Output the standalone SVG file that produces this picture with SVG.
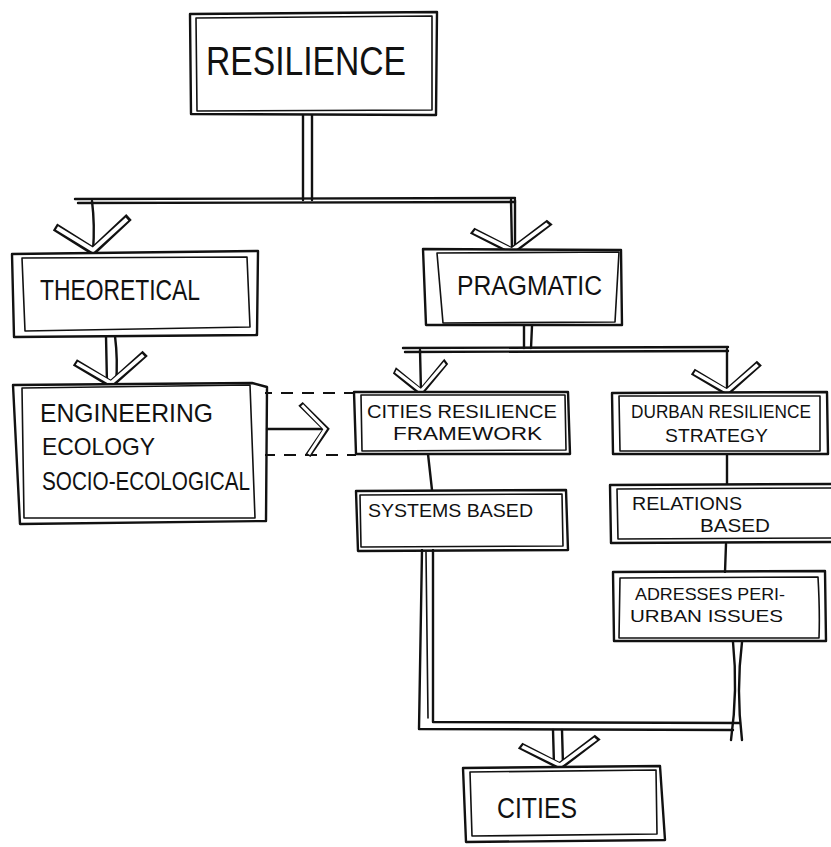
<svg xmlns="http://www.w3.org/2000/svg" xmlns:xlink="http://www.w3.org/1999/xlink" width="831" height="847" viewBox="0 0 831 847">
  <style>
    .ink { fill: none; stroke: #111; stroke-width: 2.4; stroke-linecap: round; stroke-linejoin: round; }
    .thin { fill: none; stroke: #111; stroke-width: 1.6; stroke-linecap: round; stroke-linejoin: round; }
    .dash { fill: none; stroke: #111; stroke-width: 2.2; stroke-dasharray: 12 9; }
    .box { fill: #fff; }
    .arm-o { fill: none; stroke: #111; stroke-width: 8; stroke-linecap: butt; stroke-linejoin: miter; }
    .arm-i { fill: none; stroke: #fff; stroke-width: 4; stroke-linecap: butt; stroke-linejoin: miter; }
    .lbl { font-family: "Liberation Sans", Arial, sans-serif; fill: #111; }
  </style>
  <defs>
    <!-- hollow chevron arrowhead, tip at origin, pointing down (+y) -->
    <g id="chev">
      <path class="arm-o" d="M-38,-24 L0,0 L36,-34"/>
      <path class="arm-i" d="M-36,-23 L0,-1 L34,-32"/>
    </g>
  </defs>
  <rect width="831" height="847" fill="#fff"/>

  <!-- connectors -->
  <g id="connectors">
    <!-- resilience stem and branch -->
    <path class="ink" d="M303,115 L303,200 M312,115 L312,200"/>
    <path class="ink" d="M75,199 L515,198 M78,203 L515,202"/>
    <path class="ink" d="M92,201 Q95,225 93,251"/>
    <path class="ink" d="M511,200 L512,250 M515,200 L515,250"/>
    <use xlink:href="#chev" transform="translate(93,251)"/>
    <use xlink:href="#chev" transform="translate(512,251) scale(1.05,0.85)"/>

    <!-- theoretical to schools -->
    <path class="ink" d="M106,336 L107,384 M115,336 Q118,360 116,384"/>
    <use xlink:href="#chev" transform="translate(111,384) scale(0.95,0.9)"/>

    <!-- dashed correspondence with arrow -->
    <path class="dash" d="M260,393 L356,393"/>
    <path class="dash" d="M263,455 L356,455"/>
    <path class="ink" d="M267,429 L322,429"/>
    <use xlink:href="#chev" transform="translate(326,429) rotate(-90) scale(0.7,0.75)"/>

    <!-- pragmatic branch -->
    <path class="ink" d="M524,326 L524,348 M532,326 L531,348"/>
    <path class="ink" d="M403,348 L728,347 M405,352 L728,351"/>
    <path class="ink" d="M420,350 L421,392"/>
    <path class="ink" d="M727,349 L727,392"/>
    <use xlink:href="#chev" transform="translate(421,392) scale(0.7,0.9)"/>
    <use xlink:href="#chev" transform="translate(727,392) scale(0.9,0.85)"/>

    <!-- framework / strategy chains -->
    <path class="ink" d="M428,454 L432,490"/>
    <path class="ink" d="M727,454 L727,484"/>
    <path class="ink" d="M726,544 L725,572"/>

    <!-- paths converging on cities -->
    <path class="ink" d="M422,550 L419,729 L733,730 M433,550 L433,722 L740,723"/>
    <path class="thin" d="M426,552 L428,718"/>
    <path class="ink" d="M733,642 Q738,690 731,740 M742,642 Q736,690 742,740"/>
    <path class="ink" d="M553,730 L554,765 M562,730 L563,765"/>
    <use xlink:href="#chev" transform="translate(560,766) scale(1.05,0.85)"/>
  </g>

  <!-- RESILIENCE -->
  <g id="n-resilience">
    <rect class="box" x="192" y="13" width="244" height="102"/>
    <path class="ink" d="M190,14 L437,12 L436,115 L191,114 Z"/>
    <path class="thin" d="M196,18 L432,16 L432,110 L197,111 Z"/>
    <text class="lbl" x="206" y="75" font-size="41" textLength="200" lengthAdjust="spacingAndGlyphs">RESILIENCE</text>
  </g>

  <!-- THEORETICAL -->
  <g id="n-theoretical">
    <rect class="box" x="15" y="253" width="242" height="83"/>
    <path class="ink" d="M12,254 L258,251 L257,335 L14,337 Z"/>
    <path class="thin" d="M22,258 L247,257 L250,327 L25,331 Z"/>
    <text class="lbl" x="40" y="300" font-size="29" textLength="160" lengthAdjust="spacingAndGlyphs">THEORETICAL</text>
  </g>

  <!-- PRAGMATIC -->
  <g id="n-pragmatic">
    <rect class="box" x="424" y="250" width="198" height="76"/>
    <path class="ink" d="M423,249 L621,250 L622,325 L426,325 Z"/>
    <path class="thin" d="M437,253 L619,252 L615,322 L443,323 Z"/>
    <text class="lbl" x="457" y="295" font-size="27" textLength="145" lengthAdjust="spacingAndGlyphs">PRAGMATIC</text>
  </g>

  <!-- ENGINEERING / ECOLOGY / SOCIO-ECOLOGICAL -->
  <g id="n-schools">
    <rect class="box" x="15" y="385" width="250" height="137"/>
    <path class="ink" d="M13,385 L252,383 L267,387 L266,521 L20,524 Z"/>
    <path class="thin" d="M22,388 L250,385 L255,518 L24,518 Z"/>
    <text class="lbl" x="40" y="422" font-size="26" textLength="173" lengthAdjust="spacingAndGlyphs">ENGINEERING</text>
    <text class="lbl" x="42" y="455" font-size="24" textLength="113" lengthAdjust="spacingAndGlyphs">ECOLOGY</text>
    <text class="lbl" x="42" y="490" font-size="26" textLength="208" lengthAdjust="spacingAndGlyphs">SOCIO-ECOLOGICAL</text>
  </g>

  <!-- CITIES RESILIENCE FRAMEWORK -->
  <g id="n-crf">
    <rect class="box" x="355" y="393" width="214" height="61"/>
    <path class="ink" d="M354,392 L568,392 L570,454 L356,454 Z"/>
    <path class="thin" d="M361,395 L565,395 L566,450 L362,451 Z"/>
    <text class="lbl" x="367" y="418" font-size="19" textLength="190" lengthAdjust="spacingAndGlyphs">CITIES RESILIENCE</text>
    <text class="lbl" x="393" y="440" font-size="19" textLength="149" lengthAdjust="spacingAndGlyphs">FRAMEWORK</text>
  </g>

  <!-- DURBAN RESILIENCE STRATEGY -->
  <g id="n-durban">
    <rect class="box" x="612" y="393" width="216" height="61"/>
    <path class="ink" d="M612,393 L827,392 L828,454 L613,454 Z"/>
    <path class="thin" d="M619,396 L820,396 L820,451 L620,451 Z"/>
    <text class="lbl" x="631" y="418" font-size="17.5" textLength="180" lengthAdjust="spacingAndGlyphs">DURBAN RESILIENCE</text>
    <text class="lbl" x="665" y="442" font-size="19" textLength="103" lengthAdjust="spacingAndGlyphs">STRATEGY</text>
  </g>

  <!-- SYSTEMS BASED -->
  <g id="n-systems">
    <rect class="box" x="357" y="491" width="210" height="58"/>
    <path class="ink" d="M356,491 L566,490 L568,550 L358,551 Z"/>
    <path class="thin" d="M360,495 L562,494 L563,546 L361,547 Z"/>
    <text class="lbl" x="368" y="517" font-size="18" textLength="165" lengthAdjust="spacingAndGlyphs">SYSTEMS BASED</text>
  </g>

  <!-- RELATIONS BASED -->
  <g id="n-relations">
    <rect class="box" x="611" y="485" width="220" height="58"/>
    <path class="ink" d="M610,485 L831,484 M610,485 L611,543 L831,542"/>
    <path class="thin" d="M617,489 L831,488 M617,489 L618,539 L831,538"/>
    <text class="lbl" x="632" y="510" font-size="19" textLength="110" lengthAdjust="spacingAndGlyphs">RELATIONS</text>
    <text class="lbl" x="700" y="532" font-size="19" textLength="70" lengthAdjust="spacingAndGlyphs">BASED</text>
  </g>

  <!-- ADRESSES PERI-URBAN ISSUES -->
  <g id="n-periurban">
    <rect class="box" x="614" y="573" width="211" height="68"/>
    <path class="ink" d="M613,572 L825,571 L826,641 L614,641 Z"/>
    <path class="thin" d="M620,578 L818,577 Q820,612 819,638 L619,638 Z"/>
    <text class="lbl" x="635" y="600" font-size="17" textLength="150" lengthAdjust="spacingAndGlyphs">ADRESSES PERI-</text>
    <text class="lbl" x="630" y="622" font-size="17" textLength="153" lengthAdjust="spacingAndGlyphs">URBAN ISSUES</text>
  </g>

  <!-- CITIES -->
  <g id="n-cities">
    <rect class="box" x="464" y="768" width="199" height="72"/>
    <path class="ink" d="M463,768 L660,766 L665,840 L466,842 Z"/>
    <path class="thin" d="M470,772 L656,770 L657,834 L472,836 Z"/>
    <text class="lbl" x="497" y="818" font-size="29" textLength="80" lengthAdjust="spacingAndGlyphs">CITIES</text>
  </g>
</svg>
